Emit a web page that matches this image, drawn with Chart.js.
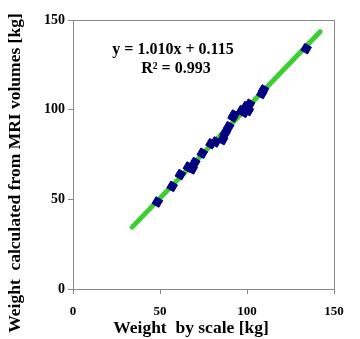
<!DOCTYPE html>
<html>
<head>
<meta charset="utf-8">
<script src="https://cdn.jsdelivr.net/npm/chart.js@4/dist/chart.umd.min.js"></script>
<style>
  html, body { margin: 0; padding: 0; background: #fff; }
  #wrap { width: 360px; height: 339px; }
</style>
</head>
<body>
<div id="wrap"><canvas id="chart" width="360" height="339"></canvas></div>
<script>
"use strict";

// measured points: weight by scale vs weight from MRI
const scaleWeight = [48.5, 57, 61.7, 66.3, 68.5, 70, 74.3, 79.3, 82, 86, 87.4, 89.5, 92, 92.5, 97, 98.5, 99.5, 100.8, 101.5, 108.5, 109.5, 134];
const mriWeight   = [48.5, 57.2, 63.8, 68, 67, 70.5, 75.7, 81, 82, 83.3, 86.8, 90.5, 96, 97, 99.5, 98.5, 101.7, 99.5, 103, 109, 111, 134];

// trend line end points
const trendX = [34, 142];
const trendY = [34.5, 143.5];

const axisTicks = [0, 50, 100, 150];
const eqText = ["y = 1.010x + 0.115", "R\u00b2 = 0.993"];
const xTitle = "Weight  by scale [kg]";
const yTitle = "Weight  calculated from MRI volumes [kg]";

const serif = "'Liberation Serif', 'Times New Roman', serif";

const boxPlugin = {
    id: "box",
    afterDraw(chart) {
        const a = chart.chartArea;
        const ctx = chart.ctx;
        ctx.save();
        ctx.strokeStyle = "#8a8a8a";
        ctx.lineWidth = 1;
        ctx.strokeRect(a.left + 0.5, a.top + 0.5, a.right - a.left, a.bottom - a.top);
        ctx.fillStyle = "#000";
        ctx.textAlign = "center";
        ctx.textBaseline = "middle";
        ctx.font = "bold 16px " + serif;
        ctx.fillText(eqText[0], 173, 50);
        ctx.fillText(eqText[1], 176, 69);
        // axis titles
        ctx.font = "bold 17.5px " + serif;
        ctx.fillText(xTitle, 191, 328);
        ctx.translate(15, 173);
        ctx.rotate(-Math.PI / 2);
        ctx.fillText(yTitle, 0, 0);
        ctx.restore();
    }
};

let trendData = [];
for (let i = 0; i < trendX.length; i++) {
    trendData.push({x: trendX[i], y: trendY[i]});
}
let pointData = [];
for (let i = 0; i < scaleWeight.length; i++) {
    pointData.push({x: scaleWeight[i], y: mriWeight[i]});
}

let ctx = document.getElementById("chart").getContext("2d");
let myChart = new Chart(ctx, {
    type: "scatter",
    data: {
        datasets: [{
            label: "Weight",
            data: pointData,
            pointStyle: "rect",
            rotation: 30,
            pointRadius: 5.5,
            backgroundColor: "#000080",
            borderColor: "#000080",
            borderWidth: 1
        }, {
            label: "Linear",
            data: trendData,
            showLine: true,
            borderColor: "#3ccf32",
            borderWidth: 5,
            borderCapStyle: "round",
            pointRadius: 0
        }]
    },
    plugins: [boxPlugin],
    options: {
        responsive: false,
        animation: false,
        layout: { padding: { top: 20, right: 26, left: 0, bottom: 0 } },
        plugins: {
            legend: { display: false },
            tooltip: { enabled: false }
        },
        scales: {
            x: {
                type: "linear",
                min: 0,
                max: 150,
                afterBuildTicks: axis => { axis.ticks = axisTicks.map(v => ({value: v})); },
                afterFit: axis => { axis.height = 50; },
                grid: { drawOnChartArea: false, tickLength: 5, color: "#8a8a8a" },
                border: { color: "#8a8a8a" },
                ticks: {
                    color: "#000",
                    padding: 10,
                    maxRotation: 0,
                    font: { family: serif, size: 13, weight: "bold" }
                }
            },
            y: {
                type: "linear",
                min: 0,
                max: 150,
                afterBuildTicks: axis => { axis.ticks = axisTicks.map(v => ({value: v})); },
                afterFit: axis => { axis.width = 73; },
                grid: { drawOnChartArea: false, tickLength: 5, color: "#8a8a8a" },
                border: { color: "#8a8a8a" },
                ticks: {
                    color: "#000",
                    padding: 3,
                    font: { family: serif, size: 14, weight: "bold" }
                }
            }
        }
    }
});
</script>
</body>
</html>
